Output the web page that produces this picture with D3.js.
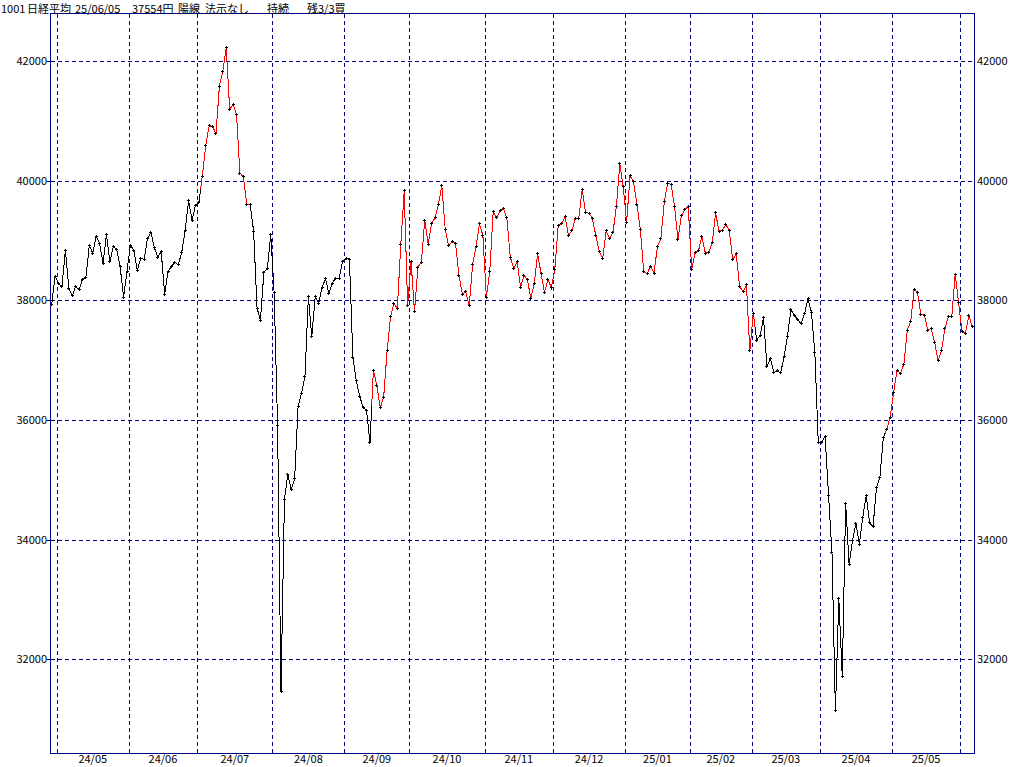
<!DOCTYPE html>
<html><head><meta charset="utf-8">
<script src="https://cdn.jsdelivr.net/npm/d3@7"></script>
<style>html,body{margin:0;padding:0;background:#fff;} svg{display:block;}</style>
</head><body>
<svg id="c" width="1024" height="767"></svg>
<script>
// ---- data ----
const dates = [
"2024-04-26","2024-04-30",
"2024-05-01","2024-05-02","2024-05-07","2024-05-08","2024-05-09","2024-05-10","2024-05-13","2024-05-14","2024-05-15","2024-05-16","2024-05-17","2024-05-20","2024-05-21","2024-05-22","2024-05-23","2024-05-24","2024-05-27","2024-05-28","2024-05-29","2024-05-30","2024-05-31",
"2024-06-03","2024-06-04","2024-06-05","2024-06-06","2024-06-07","2024-06-10","2024-06-11","2024-06-12","2024-06-13","2024-06-14","2024-06-17","2024-06-18","2024-06-19","2024-06-20","2024-06-21","2024-06-24","2024-06-25","2024-06-26","2024-06-27","2024-06-28",
"2024-07-01","2024-07-02","2024-07-03","2024-07-04","2024-07-05","2024-07-08","2024-07-09","2024-07-10","2024-07-11","2024-07-12","2024-07-16","2024-07-17","2024-07-18","2024-07-19","2024-07-22","2024-07-23","2024-07-24","2024-07-25","2024-07-26","2024-07-29","2024-07-30","2024-07-31",
"2024-08-01","2024-08-02","2024-08-05","2024-08-06","2024-08-07","2024-08-08","2024-08-09","2024-08-13","2024-08-14","2024-08-15","2024-08-16","2024-08-19","2024-08-20","2024-08-21","2024-08-22","2024-08-23","2024-08-26","2024-08-27","2024-08-28","2024-08-29","2024-08-30",
"2024-09-02","2024-09-03","2024-09-04","2024-09-05","2024-09-06","2024-09-09","2024-09-10","2024-09-11","2024-09-12","2024-09-13","2024-09-17","2024-09-18","2024-09-19","2024-09-20","2024-09-24","2024-09-25","2024-09-26","2024-09-27","2024-09-30",
"2024-10-01","2024-10-02","2024-10-03","2024-10-04","2024-10-07","2024-10-08","2024-10-09","2024-10-10","2024-10-11","2024-10-15","2024-10-16","2024-10-17","2024-10-18","2024-10-21","2024-10-22","2024-10-23","2024-10-24","2024-10-25","2024-10-28","2024-10-29","2024-10-30","2024-10-31",
"2024-11-01","2024-11-05","2024-11-06","2024-11-07","2024-11-08","2024-11-11","2024-11-12","2024-11-13","2024-11-14","2024-11-15","2024-11-18","2024-11-19","2024-11-20","2024-11-21","2024-11-22","2024-11-25","2024-11-26","2024-11-27","2024-11-28","2024-11-29",
"2024-12-02","2024-12-03","2024-12-04","2024-12-05","2024-12-06","2024-12-09","2024-12-10","2024-12-11","2024-12-12","2024-12-13","2024-12-16","2024-12-17","2024-12-18","2024-12-19","2024-12-20","2024-12-23","2024-12-24","2024-12-25","2024-12-26","2024-12-27","2024-12-30",
"2025-01-06","2025-01-07","2025-01-08","2025-01-09","2025-01-10","2025-01-14","2025-01-15","2025-01-16","2025-01-17","2025-01-20","2025-01-21","2025-01-22","2025-01-23","2025-01-24","2025-01-27","2025-01-28","2025-01-29","2025-01-30","2025-01-31",
"2025-02-03","2025-02-04","2025-02-05","2025-02-06","2025-02-07","2025-02-10","2025-02-12","2025-02-13","2025-02-14","2025-02-17","2025-02-18","2025-02-19","2025-02-20","2025-02-21","2025-02-25","2025-02-26","2025-02-27","2025-02-28",
"2025-03-03","2025-03-04","2025-03-05","2025-03-06","2025-03-07","2025-03-10","2025-03-11","2025-03-12","2025-03-13","2025-03-14","2025-03-17","2025-03-18","2025-03-19","2025-03-21","2025-03-24","2025-03-25","2025-03-26","2025-03-27","2025-03-28","2025-03-31",
"2025-04-01","2025-04-02","2025-04-03","2025-04-04","2025-04-07","2025-04-08","2025-04-09","2025-04-10","2025-04-11","2025-04-14","2025-04-15","2025-04-16","2025-04-17","2025-04-18","2025-04-21","2025-04-22","2025-04-23","2025-04-24","2025-04-25","2025-04-28","2025-04-30",
"2025-05-01","2025-05-02","2025-05-07","2025-05-08","2025-05-09","2025-05-12","2025-05-13","2025-05-14","2025-05-15","2025-05-16","2025-05-19","2025-05-20","2025-05-21","2025-05-22","2025-05-23","2025-05-26","2025-05-27","2025-05-28","2025-05-29","2025-05-30",
"2025-06-02","2025-06-03","2025-06-04","2025-06-05"
];
const closes = [
37935,38406,
38274,38236,38835,38202,38074,38229,38179,38356,38386,38920,38787,39070,38947,38617,39103,38646,38900,38855,38557,38054,38488,
38923,38837,38490,38704,38684,39038,39135,38877,38720,38815,38102,38482,38571,38633,38596,38805,39173,39667,39342,39583,
39631,40075,40581,40914,40912,40781,41580,41832,42224,41191,41275,41098,40126,40064,39599,39594,39155,37870,37667,38469,38526,39102,
38126,35910,31458,34675,35090,34831,35025,36233,36442,36727,38063,37389,38063,37952,38211,38364,38110,38289,38372,38363,38648,
38701,38686,37048,36657,36391,36216,36159,35620,36833,36582,36203,36380,37155,37724,37941,37870,38926,39830,37920,
38652,37809,38552,38636,39333,38938,39278,39381,39606,39911,39180,38911,38982,38955,38412,38105,38143,37914,38606,38904,39277,39081,
38054,38475,39481,39381,39500,39533,39376,38722,38536,38643,38221,38414,38352,38026,38284,38780,38442,38135,38349,38208,
38513,39249,39276,39396,39091,39161,39368,39372,39849,39470,39457,39365,39082,38814,38702,39161,39037,39130,39568,40281,39895,
39307,40083,39981,39605,39190,38474,38445,38573,38451,38903,39028,39646,39959,39932,39566,39017,39415,39514,39572,
38520,38798,38831,39067,38787,38801,38964,39461,39149,39174,39270,39165,38678,38777,38238,38142,38256,37156,
37785,37331,37418,37705,36887,37028,36793,36819,36790,37053,37397,37845,37752,37677,37608,37781,38027,37800,37120,35618,
35624,35726,34736,33781,31137,33013,31714,34609,33586,33982,34268,33920,34378,34730,34280,34221,34869,35039,35706,35840,36045,
36452,36831,36780,36929,37503,37644,38183,38128,37756,37754,37499,37529,37299,36986,37160,37532,37724,37722,38433,37965,
37471,37447,37747,37554
];
// periods drawn in red (holding signal)
const redRanges = [["2024-07-02","2024-07-22"],["2024-09-12","2025-03-03"],["2025-04-28","2025-06-05"]];
const monthLabels = ["24/05","24/06","24/07","24/08","24/09","24/10","24/11","24/12","25/01","25/02","25/03","25/04","25/05"];
const yTicks = [32000,34000,36000,38000,40000,42000];
const titleParts = [["1001",1],["日経平均",27],["25/06/05",75],["37554円",132],["陽線",178],["法示なし",205],["持続",267],["残3/3買",307]];

// ---- layout ----
const L = 50, R = 974, T = 13, B = 753;
const NAVY = "#000080";
const FONT = "'Noto Sans CJK JP', 'Liberation Sans', sans-serif";
const svg = d3.select("#c");
svg.append("rect").attr("width",1024).attr("height",767).attr("fill","#fff");

const x = d3.scaleBand().domain(dates).range([L, R]);
const y = d3.scaleLinear().domain([30434, 42802]).range([B, T]);
const cx = d => x(d) + x.bandwidth()/2;

// month boundaries
const monthKey = d => d.slice(0,7);
const firstOfMonth = [];
dates.forEach((d,i) => { if (i > 0 && monthKey(d) !== monthKey(dates[i-1])) firstOfMonth.push(d); });

const grid = svg.append("g").attr("stroke", NAVY).attr("stroke-width",1)
  .attr("stroke-dasharray","4,3").attr("shape-rendering","crispEdges");
yTicks.forEach(t => {
  const yy = Math.round(y(t)) + 0.5;
  grid.append("line").attr("x1", L+1).attr("x2", R).attr("y1", yy).attr("y2", yy);
});
firstOfMonth.forEach(d => {
  const xx = Math.round(x(d)) + 0.5;
  grid.append("line").attr("x1", xx).attr("x2", xx).attr("y1", T+1).attr("y2", B);
});

// frame
svg.append("rect").attr("x", L+0.5).attr("y", T+0.5).attr("width", R-L).attr("height", B-T)
  .attr("fill","none").attr("stroke", NAVY).attr("stroke-width",1).attr("shape-rendering","crispEdges");

// y labels
const ylab = svg.append("g").attr("font-family", FONT).attr("font-size", 11).attr("fill","#000");
yTicks.forEach(t => {
  const yy = Math.round(y(t));
  ylab.append("text").attr("x", 47).attr("y", yy+4).attr("text-anchor","end").text(t);
  ylab.append("text").attr("x", 977).attr("y", yy+4).attr("text-anchor","start").text(t);
  svg.append("line").attr("x1",47).attr("x2",L).attr("y1",yy+0.5).attr("y2",yy+0.5)
    .attr("stroke","#000").attr("shape-rendering","crispEdges");
});

// month labels
monthLabels.forEach(lab => {
  const key = "20" + lab.replace("/","-");
  const idx = firstOfMonth.findIndex(d => monthKey(d) === key);
  const x0 = x(firstOfMonth[idx]);
  const x1 = idx+1 < firstOfMonth.length ? x(firstOfMonth[idx+1]) : R;
  svg.append("text").attr("x", (x0+x1)/2).attr("y", 763).attr("text-anchor","middle")
    .attr("font-family", FONT).attr("font-size", 11).attr("fill","#000").text(lab);
});

// title
const title = svg.append("text").attr("y", 12.5).attr("font-family", FONT).attr("font-size", 11).attr("fill","#000");
titleParts.forEach(([s,px]) => title.append("tspan").attr("x", px).text(s));

// line, coloured per point (half segments around each point)
const isRed = d => redRanges.some(([a,b]) => d >= a && d <= b);
const pts = dates.map((d,i) => [cx(d), y(closes[i])]);
const lineG = svg.append("g").attr("fill","none").attr("stroke-width",1).attr("shape-rendering","crispEdges");
pts.forEach((p,i) => {
  const prev = i > 0 ? [(pts[i-1][0]+p[0])/2, (pts[i-1][1]+p[1])/2] : p;
  const next = i < pts.length-1 ? [(pts[i+1][0]+p[0])/2, (pts[i+1][1]+p[1])/2] : p;
  lineG.append("path").attr("d", d3.line()([prev, p, next]))
    .attr("stroke", isRed(dates[i]) ? "#ff0000" : "#000000");
});

// markers "+"
const mk = svg.append("g").attr("stroke","#000").attr("stroke-width",1).attr("shape-rendering","crispEdges");
pts.forEach(([px,py]) => {
  const X = Math.floor(px), Y = Math.floor(py);
  mk.append("path").attr("d", `M${X-1},${Y+0.5}H${X+2}M${X+0.5},${Y-1}V${Y+2}`);
});
</script>
</body></html>
